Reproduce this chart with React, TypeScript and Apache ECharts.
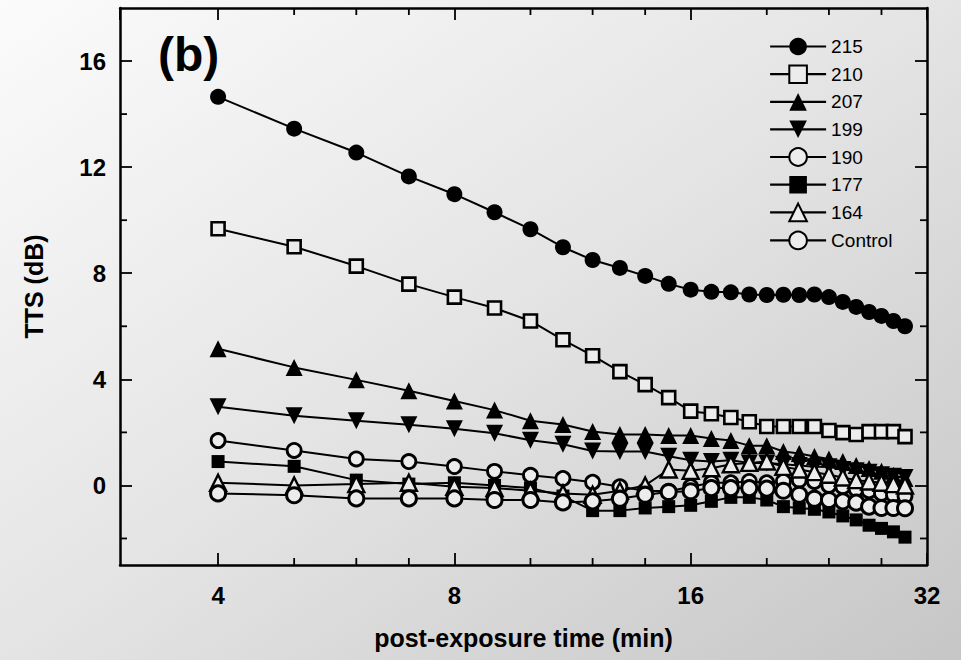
import React, { useEffect, useRef } from "react";
import * as echarts from "echarts";

const times = [4, 5, 6, 7, 8, 9, 10, 11, 12, 13, 14, 15, 16, 17, 18, 19, 20, 21, 22, 23, 24, 25, 26, 27, 28, 29, 30];

const s215 = [14.65, 13.45, 12.55, 11.65, 10.98, 10.3, 9.66, 8.98, 8.5, 8.2, 7.9, 7.6, 7.38, 7.3, 7.28, 7.2, 7.18, 7.19, 7.18, 7.2, 7.1, 6.92, 6.73, 6.54, 6.39, 6.2, 6.0];
const s210 = [9.68, 9.0, 8.27, 7.59, 7.1, 6.69, 6.2, 5.49, 4.89, 4.29, 3.8, 3.31, 2.8, 2.7, 2.56, 2.4, 2.22, 2.22, 2.22, 2.22, 2.07, 1.99, 1.92, 2.03, 2.03, 2.03, 1.84];
const s207 = [5.15, 4.45, 3.98, 3.57, 3.18, 2.84, 2.44, 2.3, 2.03, 1.92, 1.92, 1.88, 1.88, 1.77, 1.69, 1.5, 1.5, 1.28, 1.2, 1.09, 1.0, 0.9, 0.75, 0.64, 0.53, 0.38, 0.26];
const s199 = [2.97, 2.63, 2.44, 2.29, 2.14, 1.97, 1.7, 1.55, 1.3, 1.28, 1.28, 1.1, 0.95, 0.9, 0.95, 0.85, 0.85, 0.8, 0.75, 0.7, 0.7, 0.6, 0.55, 0.5, 0.4, 0.35, 0.3];
const s190 = [1.69, 1.32, 1.0, 0.9, 0.71, 0.53, 0.38, 0.26, 0.12, -0.05, -0.2, -0.22, -0.05, 0.1, 0.1, 0.15, 0.1, 0.15, 0.2, 0.15, 0.0, -0.05, -0.15, -0.2, -0.3, -0.35, -0.4];
const s177 = [0.9, 0.72, 0.2, 0.05, 0.1, 0.0, -0.1, -0.4, -0.95, -0.95, -0.85, -0.8, -0.75, -0.6, -0.45, -0.45, -0.55, -0.8, -0.85, -0.9, -1.0, -1.15, -1.3, -1.5, -1.62, -1.75, -1.95];
const s164 = [0.1, 0.0, 0.05, 0.1, -0.05, -0.1, -0.2, -0.3, -0.35, -0.2, 0.0, 0.6, 0.55, 0.65, 0.8, 0.85, 0.9, 0.7, 0.6, 0.5, 0.4, 0.3, 0.2, 0.15, 0.1, 0.05, 0.0];
const sControl = [-0.3, -0.37, -0.49, -0.49, -0.49, -0.55, -0.55, -0.64, -0.6, -0.5, -0.35, -0.25, -0.22, -0.1, -0.1, -0.1, -0.12, -0.2, -0.35, -0.5, -0.55, -0.6, -0.65, -0.8, -0.85, -0.85, -0.86];

const seriesNames = ["215", "210", "207", "199", "190", "177", "164", "Control"];
const xMajorLabels = [4, 8, 16, 32];
const xMinorTicks = [5, 6, 7, 10, 12, 14, 20, 24, 28];
const yMajorTicks = [0, 4, 8, 12, 16];
const yMinorTicks = [-2, 2, 6, 10, 14];
const X_MIN = 3, X_MAX = 32, Y_MIN = -3, Y_MAX = 18;

const FONT = "Liberation Sans";
const FILL = "#ececec";

function pairs(vals: number[]) {
  return times.map((t, i) => [t, vals[i]]);
}

export default function App() {
  const ref = useRef<HTMLDivElement>(null);
  useEffect(() => {
    if (!ref.current) return;
    const chart = echarts.init(ref.current, null, { renderer: "svg" });
    const lineStyle = { color: "#000", width: 2 };
    const mk = (name: string, vals: number[], symbol: string, size: number, filled: boolean, rotate = 0, bw = 2.5) => ({
      name,
      type: "line",
      data: pairs(vals),
      symbol,
      symbolSize: size,
      symbolRotate: rotate,
      showAllSymbol: true,
      lineStyle,
      itemStyle: filled
        ? { color: "#000", borderColor: "#000", borderWidth: 0 }
        : { color: FILL, borderColor: "#000", borderWidth: bw },
      emphasis: { disabled: true },
    });

    const tickData: number[][] = [];
    xMinorTicks.forEach((v) => tickData.push([v, 0, 0]));
    yMinorTicks.forEach((v) => tickData.push([4, v, 1]));

    const axisLineStyle = { color: "#000", width: 2.5 };
    const tickStyle = { color: "#000", width: 1.8 };
    const labelStyle = { color: "#000", fontFamily: FONT, fontWeight: "bold", fontSize: 24 };

    chart.setOption({
      animation: false,
      backgroundColor: new echarts.graphic.LinearGradient(0, 0, 1, 1, [
        { offset: 0, color: "#fbfbfb" },
        { offset: 0.5, color: "#e4e4e4" },
        { offset: 1, color: "#c6c6c6" },
      ]),
      grid: { left: 120, right: 34, top: 8, bottom: 95, containLabel: false },
      legend: {
        data: seriesNames,
        orient: "vertical",
        left: 764,
        top: 32,
        itemWidth: 56,
        itemHeight: 22,
        itemGap: 8.4,
        lineStyle: { width: 2.2 },
        textStyle: { color: "#000", fontFamily: FONT, fontSize: 19 },
        selectedMode: false,
      },
      xAxis: [
        {
          type: "log",
          logBase: 2,
          min: X_MIN,
          max: X_MAX,
          position: "bottom",
          name: "post-exposure time (min)",
          nameLocation: "middle",
          nameGap: 60,
          nameTextStyle: { ...labelStyle, fontSize: 25 },
          axisLine: { onZero: false, lineStyle: axisLineStyle },
          axisTick: { inside: true, length: 12, lineStyle: tickStyle },
          axisLabel: { ...labelStyle, margin: 18, showMinLabel: false, formatter: (v: number) => (xMajorLabels.includes(Math.round(v)) ? String(Math.round(v)) : "") },
          splitLine: { show: false },
          minorTick: { show: false },
        },
        {
          type: "log",
          logBase: 2,
          min: X_MIN,
          max: X_MAX,
          position: "top",
          axisLine: { onZero: false, lineStyle: axisLineStyle },
          axisTick: { inside: true, length: 12, lineStyle: tickStyle },
          axisLabel: { show: false },
          splitLine: { show: false },
        },
      ],
      yAxis: [
        {
          type: "value",
          min: Y_MIN,
          max: Y_MAX,
          position: "left",
          name: "TTS (dB)",
          nameLocation: "middle",
          nameGap: 74,
          nameTextStyle: { ...labelStyle, fontSize: 25 },
          axisLine: { show: true, onZero: false, lineStyle: axisLineStyle },
          axisTick: { show: true, inside: true, length: 12, lineStyle: tickStyle, customValues: yMajorTicks },
          axisLabel: { ...labelStyle, margin: 14, customValues: yMajorTicks },
          splitLine: { show: false },
        },
        {
          type: "value",
          min: Y_MIN,
          max: Y_MAX,
          position: "right",
          axisLine: { show: true, onZero: false, lineStyle: axisLineStyle },
          axisTick: { show: true, inside: true, length: 12, lineStyle: tickStyle, customValues: yMajorTicks },
          axisLabel: { show: false, customValues: yMajorTicks },
          splitLine: { show: false },
        },
      ],
      graphic: [
        {
          type: "text",
          left: 158,
          top: 30,
          style: { text: "(b)", font: `bold 48px "${FONT}"`, fill: "#000" },
        },
      ],
      series: [
        {
          type: "custom",
          name: "minorTicks",
          coordinateSystem: "cartesian2d",
          xAxisIndex: 0,
          yAxisIndex: 0,
          silent: true,
          clip: false,
          z: 5,
          data: tickData,
          renderItem: (params: any, api: any) => {
            const kind = api.value(2);
            const len = 7;
            const st = { stroke: "#000", lineWidth: 1.8 };
            if (kind === 0) {
              const v = api.value(0);
              const b = api.coord([v, Y_MIN]);
              const t = api.coord([v, Y_MAX]);
              return {
                type: "group",
                children: [
                  { type: "line", shape: { x1: b[0], y1: b[1], x2: b[0], y2: b[1] - len }, style: st },
                  { type: "line", shape: { x1: t[0], y1: t[1], x2: t[0], y2: t[1] + len }, style: st },
                ],
              };
            }
            const v = api.value(1);
            const l = api.coord([X_MIN, v]);
            const r = api.coord([X_MAX, v]);
            return {
              type: "group",
              children: [
                { type: "line", shape: { x1: l[0], y1: l[1], x2: l[0] + len, y2: l[1] }, style: st },
                { type: "line", shape: { x1: r[0], y1: r[1], x2: r[0] - len, y2: r[1] }, style: st },
              ],
            };
          },
        },
        mk("215", s215, "circle", 16, true),
        mk("210", s210, "rect", 13, false, 0, 2.6),
        mk("207", s207, "triangle", 17, true),
        mk("199", s199, "triangle", 17, true, 180),
        mk("190", s190, "circle", 14, false, 0, 2.8),
        mk("177", s177, "rect", 13, true),
        mk("164", s164, "triangle", 16, false, 0, 2.4),
        mk("Control", sControl, "circle", 15, false, 0, 3),
      ],
    });
    return () => chart.dispose();
  }, []);
  return <div ref={ref} style={{ position: "fixed", left: 0, top: 0, width: 961, height: 660 }} />;
}
